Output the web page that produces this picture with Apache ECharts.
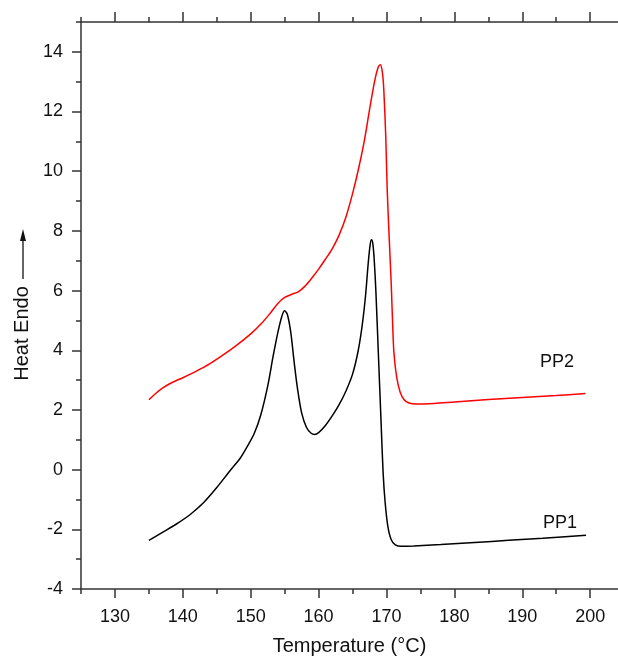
<!DOCTYPE html>
<html>
<head>
<meta charset="utf-8">
<script src="https://cdn.jsdelivr.net/npm/echarts@6/dist/echarts.min.js"></script>
<style>
  html, body { margin: 0; padding: 0; background: #fff; }
  #chart { width: 618px; height: 661px; }
</style>
</head>
<body>
<div id="chart"></div>
<script>
// DSC curves: [temperature °C, heat flow]
const pp1 = [
  [135, -2.37], [137, -2.1], [139, -1.83], [141, -1.52], [143, -1.12],
  [145, -0.6], [147, -0.02], [148.5, 0.4], [149.5, 0.78], [150.5, 1.2],
  [151.5, 1.85], [152.5, 2.8], [153.3, 3.8], [154, 4.6], [154.6, 5.15],
  [155, 5.32], [155.4, 5.2], [155.9, 4.6], [156.4, 3.6], [156.9, 2.7],
  [157.5, 1.9], [158.2, 1.42], [158.9, 1.22], [159.4, 1.18], [160, 1.24],
  [161, 1.48], [162, 1.8], [163, 2.17], [164, 2.62], [165, 3.2],
  [165.8, 3.95], [166.4, 4.8], [166.9, 5.8], [167.3, 6.9], [167.6, 7.55],
  [167.8, 7.7], [168, 7.55], [168.2, 7.0], [168.45, 5.9], [168.8, 3.9],
  [169.2, 1.6], [169.5, -0.1], [169.8, -1.1], [170.2, -1.9], [170.7, -2.35],
  [171.3, -2.52], [172.2, -2.57], [174, -2.56], [178, -2.51], [183, -2.44],
  [188, -2.37], [193, -2.3], [199.4, -2.2]
];

const pp2 = [
  [135, 2.34], [136, 2.55], [137, 2.73], [138, 2.87], [139, 2.98],
  [140, 3.08], [142, 3.3], [144, 3.55], [146, 3.85], [148, 4.18],
  [150, 4.55], [151.5, 4.88], [152.8, 5.22], [154, 5.57], [155, 5.77],
  [156, 5.87], [157, 5.96], [158, 6.15], [159, 6.42], [160, 6.72],
  [161, 7.05], [162, 7.4], [163, 7.85], [164, 8.45], [165, 9.25],
  [165.9, 10.1], [166.8, 11.1], [167.6, 12.2], [168.3, 13.07], [168.8, 13.5],
  [169.1, 13.57], [169.4, 13.3], [169.6, 12.74], [169.9, 11.1], [170.1, 9.4],
  [170.4, 7.75], [170.7, 6.2], [170.9, 4.9], [171.1, 3.9], [171.5, 3.1],
  [172, 2.6], [172.6, 2.34], [173.3, 2.23], [174.5, 2.2], [177, 2.22],
  [180, 2.27], [185, 2.35], [190, 2.42], [195, 2.48], [199.3, 2.55]
];

const xMajor = [130, 140, 150, 160, 170, 180, 190, 200];
const xMinor = [125, 135, 145, 155, 165, 175, 185, 195];
const yMajor = [-4, -2, 0, 2, 4, 6, 8, 10, 12, 14];
const yMinor = [-3, -1, 1, 3, 5, 7, 9, 11, 13, 15];

const font = "'Liberation Sans', Arial, sans-serif";
const axisColor = '#333';

const chart = echarts.init(document.getElementById('chart'));

function xAxisDef(position, ticks, len, withLabels) {
  return {
    type: 'value',
    position: position,
    min: 125,
    max: 204.1,
    interval: 5,
    splitLine: { show: false },
    axisLine: { show: withLabels !== null, onZero: false, lineStyle: { color: axisColor, width: 1.5 } },
    axisTick: { show: true, inside: false, length: len, customValues: ticks, lineStyle: { color: axisColor, width: 1.5 } },
    axisLabel: withLabels
      ? { show: true, customValues: xMajor, margin: 19, color: '#111', fontSize: 18, fontFamily: font }
      : { show: false }
  };
}

chart.setOption({
  animation: false,
  backgroundColor: '#fff',
  grid: { left: 81, top: 22, right: 0, bottom: 67, containLabel: false },
  xAxis: [
    Object.assign(xAxisDef('bottom', xMajor, 9, true), {
      name: 'Temperature (°C)',
      nameLocation: 'middle',
      nameGap: 47,
      nameTextStyle: { fontSize: 20, color: '#111', fontFamily: font }
    }),
    xAxisDef('bottom', xMinor, 5, null),
    xAxisDef('top', xMajor, 10, false),
    xAxisDef('top', xMinor, 5, null)
  ],
  yAxis: [
    {
      type: 'value',
      position: 'left',
      min: -4,
      max: 15,
      interval: 2,
      name: 'Heat Endo',
      nameLocation: 'middle',
      nameGap: 48,
      nameTextStyle: { fontSize: 20, color: '#111', fontFamily: font, padding: [0, 56, 0, 0] },
      splitLine: { show: false },
      axisLine: { show: true, onZero: false, lineStyle: { color: axisColor, width: 1.5 } },
      axisTick: { show: true, length: 9, customValues: yMajor, lineStyle: { color: axisColor, width: 1.5 } },
      axisLabel: { customValues: yMajor, margin: 18, color: '#111', fontSize: 18, fontFamily: font }
    },
    {
      type: 'value',
      position: 'left',
      min: -4,
      max: 15,
      interval: 1,
      splitLine: { show: false },
      axisLine: { show: false },
      axisTick: { show: true, length: 5, customValues: yMinor, lineStyle: { color: axisColor, width: 1.5 } },
      axisLabel: { show: false }
    }
  ],
  graphic: [
    { type: 'line', shape: { x1: 23, y1: 279, x2: 23, y2: 240 }, style: { stroke: '#111', lineWidth: 1.3 } },
    { type: 'polygon', shape: { points: [[23, 229], [20, 241], [26, 241]] }, style: { fill: '#111' } },
    { type: 'text', left: 540, top: 353, style: { text: 'PP2', fontSize: 18, fill: '#111', fontFamily: font } },
    { type: 'text', left: 543, top: 514, style: { text: 'PP1', fontSize: 18, fill: '#111', fontFamily: font } }
  ],
  series: [
    {
      name: 'PP1',
      type: 'line',
      data: pp1,
      showSymbol: false,
      smooth: 0.3,
      lineStyle: { color: '#000', width: 1.5 }
    },
    {
      name: 'PP2',
      type: 'line',
      data: pp2,
      showSymbol: false,
      smooth: 0.3,
      lineStyle: { color: '#ff0000', width: 1.5 }
    }
  ]
});
</script>
</body>
</html>
